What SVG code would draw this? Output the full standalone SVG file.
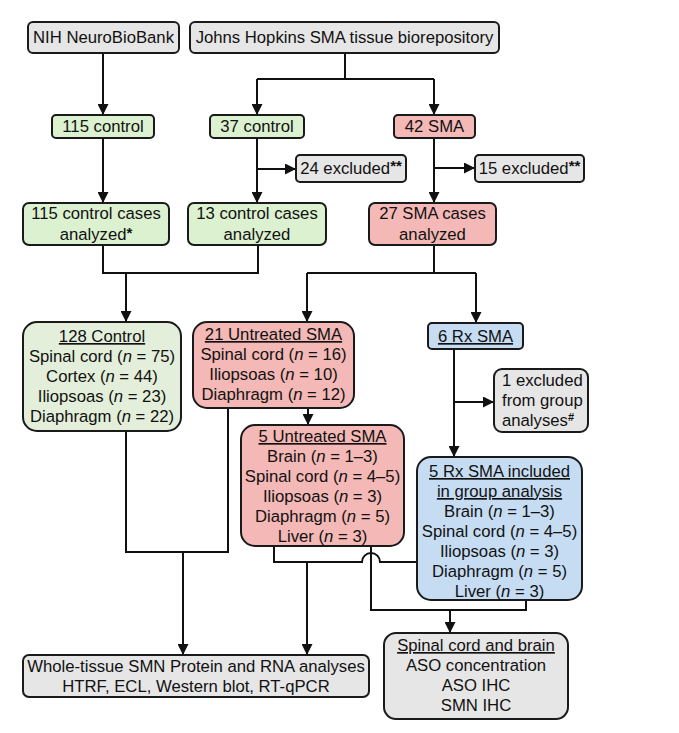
<svg xmlns="http://www.w3.org/2000/svg" width="679" height="733" viewBox="0 0 679 733">
<defs>
<marker id="ah" viewBox="0 0 10 10" refX="10" refY="5" markerWidth="11" markerHeight="11" markerUnits="userSpaceOnUse" orient="auto">
<path d="M0,0 L10,5 L0,10 z" fill="#111"/>
</marker>
<style>
text{font-family:"Liberation Sans",Arial,sans-serif;font-size:16.7px;fill:#111;text-anchor:middle}
.box{stroke:#1a1a1a;stroke-width:2}
.gray{fill:#e6e6e6}
.green{fill:#dcf1d0}
.lgreen{fill:#e3efda}
.red{fill:#f4b8b6}
.blue{fill:#c6dcf3}
.u{text-decoration:underline}
.i{font-style:italic}
.sup{font-weight:bold;font-size:15px}
#connectors path{fill:none;stroke:#111;stroke-width:2}
.arr{marker-end:url(#ah)}
</style>
</defs>
<rect width="679" height="733" fill="#fff"/>

<g id="connectors">
<path class="arr" d="M103 53 V115"/>
<path d="M345 53 V79 M257 79 H434"/>
<path class="arr" d="M257 79 V115"/>
<path class="arr" d="M434 79 V115"/>
<path class="arr" d="M103 138 V203"/>
<path class="arr" d="M257 138 V203"/>
<path class="arr" d="M257 169 H296"/>
<path class="arr" d="M434 138 V203"/>
<path class="arr" d="M434 168 H475"/>
<path d="M103 245 V273 H258 V245"/>
<path class="arr" d="M126 273 V322"/>
<path d="M434 245 V273 M307 273 H476"/>
<path class="arr" d="M307 273 V322"/>
<path class="arr" d="M476 273 V323"/>
<path class="arr" d="M308 408 V425"/>
<path class="arr" d="M454 349 V457"/>
<path class="arr" d="M454 402 H494"/>
<path d="M126 431 V552 H228 V408"/>
<path class="arr" d="M183 552 V655"/>
<path d="M274 546 V562 H362 a9 9 0 0 1 18 0 H417"/>
<path class="arr" d="M307 562 V655"/>
<path d="M371 546 V610 H526 V600"/>
<path class="arr" d="M450 610 V633"/>
</g>

<g id="nih">
<rect class="box gray" x="28" y="22" width="151" height="31" rx="5"/>
<text x="103.5" y="43">NIH NeuroBioBank</text>
</g>
<g id="jh">
<rect class="box gray" x="190" y="22" width="309" height="31" rx="5"/>
<text x="344.5" y="43">Johns Hopkins SMA tissue biorepository</text>
</g>
<g id="control115">
<rect class="box green" x="52" y="115" width="102" height="23" rx="4"/>
<text x="103" y="132">115 control</text>
</g>
<g id="control37">
<rect class="box green" x="210" y="115" width="94" height="23" rx="4"/>
<text x="257" y="132">37 control</text>
</g>
<g id="sma42">
<rect class="box red" x="394" y="115" width="81" height="23" rx="4"/>
<text x="434.5" y="132">42 SMA</text>
</g>
<g id="excl24">
<rect class="box gray" x="296" y="155" width="110" height="27" rx="4"/>
<text x="351" y="174">24 excluded<tspan class="sup" dy="-3">**</tspan></text>
</g>
<g id="excl15">
<rect class="box gray" x="475" y="155" width="109" height="27" rx="4"/>
<text x="529.5" y="174">15 excluded<tspan class="sup" dy="-3">**</tspan></text>
</g>
<g id="cases115">
<rect class="box green" x="23" y="203" width="146" height="42" rx="6"/>
<text x="96" y="219">115 control cases</text>
<text x="96" y="240">analyzed<tspan class="sup" dy="-2">*</tspan></text>
</g>
<g id="cases13">
<rect class="box green" x="188" y="203" width="138" height="42" rx="6"/>
<text x="257" y="219">13 control cases</text>
<text x="257" y="240">analyzed</text>
</g>
<g id="cases27">
<rect class="box red" x="369" y="203" width="127" height="42" rx="6"/>
<text x="432.5" y="219">27 SMA cases</text>
<text x="432.5" y="240">analyzed</text>
</g>
<g id="control128">
<rect class="box lgreen" x="23" y="322" width="158" height="109" rx="14"/>
<text x="102" y="342" class="u">128 Control</text>
<text x="102" y="362">Spinal cord (<tspan class="i">n</tspan> = 75)</text>
<text x="102" y="382">Cortex (<tspan class="i">n</tspan> = 44)</text>
<text x="102" y="402">Iliopsoas (<tspan class="i">n</tspan> = 23)</text>
<text x="102" y="422">Diaphragm (<tspan class="i">n</tspan> = 22)</text>
</g>
<g id="untreated21">
<rect class="box red" x="193" y="322" width="161" height="86" rx="14"/>
<text x="273.5" y="340" class="u">21 Untreated SMA</text>
<text x="273.5" y="360">Spinal cord (<tspan class="i">n</tspan> = 16)</text>
<text x="273.5" y="380">Iliopsoas (<tspan class="i">n</tspan> = 10)</text>
<text x="273.5" y="400">Diaphragm (<tspan class="i">n</tspan> = 12)</text>
</g>
<g id="rx6">
<rect class="box blue" x="428" y="323" width="95" height="26" rx="4"/>
<text x="475.5" y="342" class="u">6 Rx SMA</text>
</g>
<g id="excl1">
<rect class="box gray" x="494" y="369" width="94" height="63" rx="8"/>
<text x="502" y="386" style="text-anchor:start">1 excluded</text>
<text x="502" y="406" style="text-anchor:start">from group</text>
<text x="502" y="426" style="text-anchor:start">analyses<tspan class="sup" style="font-size:11px" dy="-5">#</tspan></text>
</g>
<g id="untreated5">
<rect class="box red" x="241" y="425" width="163" height="121" rx="14"/>
<text x="322.5" y="442" class="u">5 Untreated SMA</text>
<text x="322.5" y="462">Brain (<tspan class="i">n</tspan> = 1–3)</text>
<text x="322.5" y="482">Spinal cord (<tspan class="i">n</tspan> = 4–5)</text>
<text x="322.5" y="502">Iliopsoas (<tspan class="i">n</tspan> = 3)</text>
<text x="322.5" y="522">Diaphragm (<tspan class="i">n</tspan> = 5)</text>
<text x="322.5" y="542">Liver (<tspan class="i">n</tspan> = 3)</text>
</g>
<g id="rx5">
<rect class="box blue" x="417" y="457" width="165" height="143" rx="14"/>
<text x="499.5" y="477" class="u">5 Rx SMA included</text>
<text x="499.5" y="497" class="u">in group analysis</text>
<text x="499.5" y="517">Brain (<tspan class="i">n</tspan> = 1–3)</text>
<text x="499.5" y="537">Spinal cord (<tspan class="i">n</tspan> = 4–5)</text>
<text x="499.5" y="557">Iliopsoas (<tspan class="i">n</tspan> = 3)</text>
<text x="499.5" y="577">Diaphragm (<tspan class="i">n</tspan> = 5)</text>
<text x="499.5" y="597">Liver (<tspan class="i">n</tspan> = 3)</text>
</g>
<g id="wholetissue">
<rect class="box gray" x="23" y="655" width="346" height="42" rx="6"/>
<text x="196" y="672">Whole-tissue SMN Protein and RNA analyses</text>
<text x="196" y="692">HTRF, ECL, Western blot, RT-qPCR</text>
</g>
<g id="spinalbrain">
<rect class="box gray" x="384" y="633" width="184" height="86" rx="12"/>
<text x="476" y="651" class="u">Spinal cord and brain</text>
<text x="476" y="671">ASO concentration</text>
<text x="476" y="691">ASO IHC</text>
<text x="476" y="711">SMN IHC</text>
</g>
</svg>
